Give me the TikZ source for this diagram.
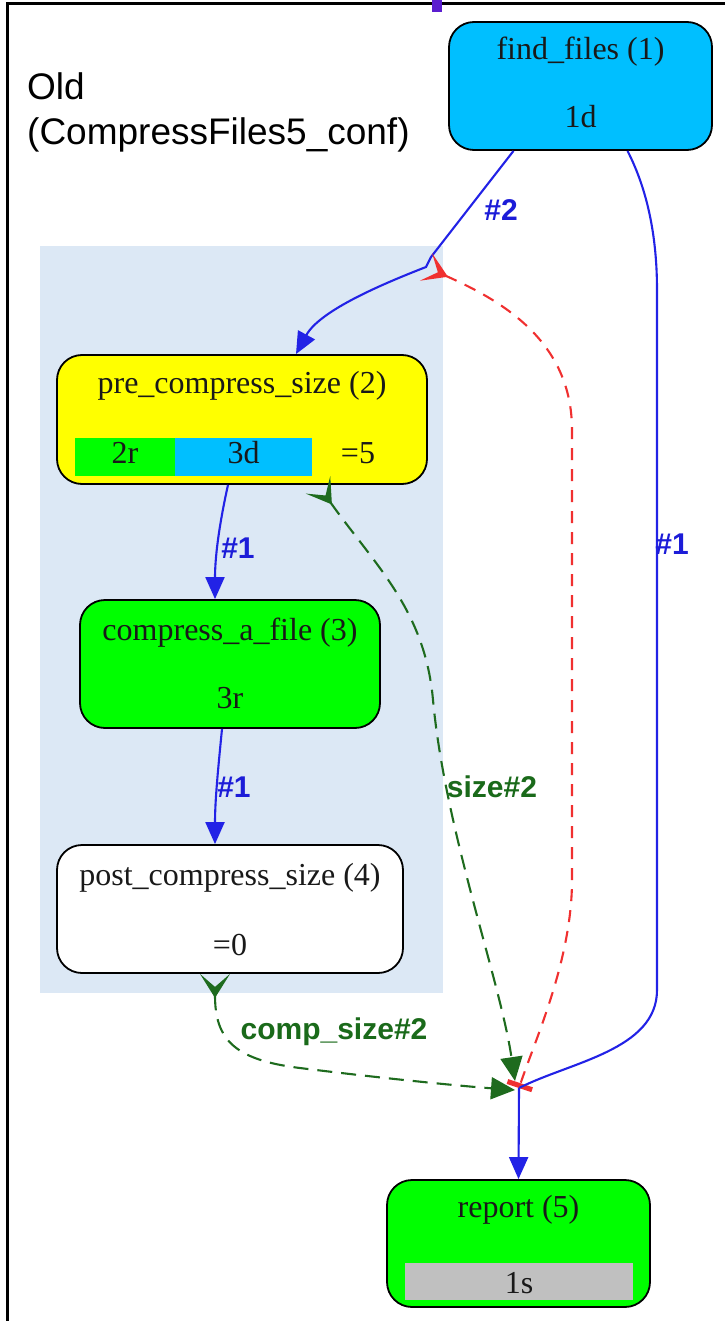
\documentclass[tikz,border=0pt]{standalone}
\usepackage{fontspec}
\setmainfont{Liberation Serif}
\newfontfamily\lsans{Liberation Sans}
\usetikzlibrary{arrows.meta,calc}
\definecolor{cyanbox}{HTML}{00BFFF}
\definecolor{yellowbox}{HTML}{FFFF00}
\definecolor{greenbox}{HTML}{00FF00}
\definecolor{graybox}{HTML}{C0C0C0}
\definecolor{clusterbg}{HTML}{DCE8F5}
\definecolor{edgeblue}{HTML}{2222E6}
\definecolor{labblue}{HTML}{1C1CD8}
\definecolor{edgegreen}{HTML}{1E6B1E}
\definecolor{labgreen}{HTML}{1A6A1A}
\definecolor{edgered}{HTML}{F03030}
\definecolor{markpurple}{HTML}{5B1ED0}
\tikzset{
  box/.style={draw=black, line width=1.8pt, rounded corners=25pt, inner sep=0pt},
  nlab/.style={anchor=base, inner sep=0pt, text=black!90, font=\fontsize{32}{38}\selectfont},
  cell/.style={inner sep=0pt, draw=none},
  elab/.style={inner sep=0pt, font=\lsans\bfseries\fontsize{30}{36}\selectfont},
  ttl/.style={anchor=base west, inner sep=0pt, font=\lsans\fontsize{37}{44}\selectfont},
  blueedge/.style={draw=edgeblue, line width=2.1pt},
  greenedge/.style={draw=edgegreen, line width=2.1pt, dash pattern=on 15pt off 9pt},
  rededge/.style={draw=edgered, line width=2.1pt, dash pattern=on 12pt off 9pt},
  btip/.tip={Triangle[length=22pt,width=19pt]},
  gtip/.tip={Triangle[length=24pt,width=22pt]},
  veetip/.tip={Stealth[reversed,length=24pt,width=30pt,inset=13pt]}
}
\begin{document}
\begin{tikzpicture}[x=1pt,y=-1pt]
\useasboundingbox (0,0) rectangle (725,1321);
% cluster background
\fill[clusterbg] (40,246) rectangle (443,993);
% frame
\draw[line width=3pt] (7,1321) -- (7,4) -- (725,4);
\fill[markpurple] (432,0) rectangle (442,12);
% title
\node[ttl] (t1) at (27,100) {Old};
\node[ttl] (t2) at (27,145) {(CompressFiles5\_conf)};
% nodes
\node[box, fill=cyanbox, minimum width=263pt, minimum height=128pt] (ff) at (580.5,86) {};
\node[nlab] (fft) at (580.5,60) {find\_files (1)};
\node[nlab] (ffs) at (580.5,128) {1d};

\node[box, fill=yellowbox, minimum width=370pt, minimum height=129pt] (pre) at (242,419.5) {};
\node[nlab] (pret) at (242,393) {pre\_compress\_size (2)};
\node[cell, fill=greenbox, minimum width=100pt, minimum height=38pt] (pc1) at (125,457) {};
\node[cell, fill=cyanbox, minimum width=137pt, minimum height=38pt] (pc2) at (243.5,457) {};
\node[nlab] (pc1t) at (125,463) {2r};
\node[nlab] (pc2t) at (243.5,463) {3d};
\node[nlab] (pc3t) at (358,463) {=5};

\node[box, fill=greenbox, minimum width=300pt, minimum height=128pt] (cmp) at (230,664) {};
\node[nlab] (cmpt) at (230,640) {compress\_a\_file (3)};
\node[nlab] (cmps) at (230,708) {3r};

\node[box, fill=white, minimum width=346pt, minimum height=128pt] (post) at (230,909) {};
\node[nlab] (postt) at (230,885) {post\_compress\_size (4)};
\node[nlab] (posts) at (230,955) {=0};

\node[box, fill=greenbox, minimum width=263pt, minimum height=127pt] (rep) at (518.5,1243.5) {};
\node[nlab] (rept) at (518.5,1217) {report (5)};
\node[cell, fill=graybox, minimum width=228pt, minimum height=37pt] (repc) at (519,1281.5) {};
\node[nlab] (repct) at (519,1293) {1s};

% junctions
\coordinate (j1) at (426,267);
\coordinate (j2) at (519,1088);
\coordinate (j2a) at (515,1081);
\coordinate (j2b) at (515,1090);

% edges
\draw[blueedge, -btip] ([xshift=-67pt]ff.south) -- (431,257) -- (j1)
   .. controls (385,283) and (320,310) .. ([xshift=54pt]pre.north);
\draw[rededge, {veetip}-{Bar[width=26pt,line width=5pt]}] (j1)
   .. controls (500,300) and (572,340) .. (572,430) -- (572,880)
   .. controls (572,960) and (535,1040) .. (j2);
\draw[blueedge] ([xshift=47pt]ff.south) .. controls (645,185) and (657,230) .. (657,290)
   -- (657,990) .. controls (657,1050) and (570,1062) .. (j2);
\draw[blueedge, -btip] (j2) -- (rep.north);
\draw[greenedge, {veetip}-gtip] ([xshift=76pt]pre.south)
   .. controls (375,565) and (425,610) .. (433,700)
   .. controls (445,830) and (500,980) .. (j2a);
\draw[greenedge, {veetip}-gtip] ([xshift=-15pt]post.south)
   .. controls (215,1040) and (235,1060) .. (300,1068)
   .. controls (380,1078) and (460,1086) .. (j2b);
\draw[blueedge, -btip] ([xshift=-14pt]pre.south) .. controls (218,530) and (215,560) .. ([xshift=-15pt]cmp.north);
\draw[blueedge, -btip] ([xshift=-8pt]cmp.south) .. controls (218,770) and (215,800) .. ([xshift=-15pt]post.north);

% edge labels
\node[elab, text=labblue] (l2) at (501,210) {\#2};
\node[elab, text=labblue] (l1r) at (672,544) {\#1};
\node[elab, text=labblue] (l1a) at (238,548) {\#1};
\node[elab, text=labblue] (l1b) at (234,787) {\#1};
\node[elab, text=labgreen] (ls) at (492,787) {size\#2};
\node[elab, text=labgreen] (lc) at (334,1032) {comp\_size\#2};
\end{tikzpicture}
\end{document}
